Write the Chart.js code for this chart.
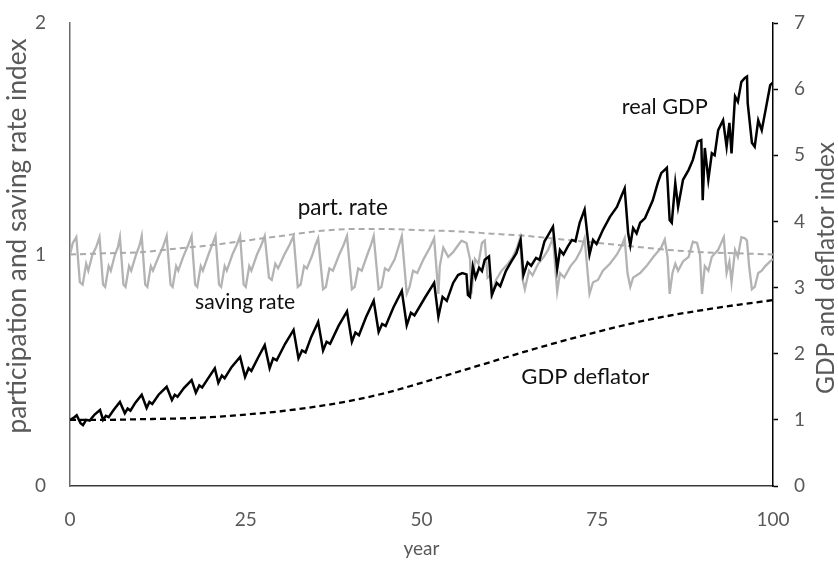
<!DOCTYPE html>
<html>
<head>
<meta charset="utf-8">
<script src="https://cdn.jsdelivr.net/npm/chart.js@4"></script>
<style>
  html, body { margin: 0; padding: 0; background: #fff; }
  #wrap { width: 838px; height: 565px; }
</style>
</head>
<body>
<div id="wrap"><canvas id="c" width="838" height="565"></canvas></div>
<script>
// ---- data ----------------------------------------------------------------
// smooth series, sampled every 5 years
const years5 = [0, 5, 10, 15, 20, 25, 30, 35, 40, 45, 50, 55, 60, 65, 70, 75, 80, 85, 90, 95, 100];
const gdpDeflator = [1.00, 1.00, 1.01, 1.02, 1.04, 1.08, 1.13, 1.20, 1.29, 1.41, 1.56, 1.72, 1.88, 2.04, 2.19, 2.33, 2.46, 2.57, 2.66, 2.74, 2.81];
const partRate = [1.00, 1.005, 1.01, 1.025, 1.04, 1.06, 1.08, 1.10, 1.11, 1.11, 1.105, 1.10, 1.09, 1.08, 1.065, 1.05, 1.035, 1.02, 1.01, 1.005, 1.00];

// cyclical series, [year, index]
const realGdp = [
  [0,1.00],[0.5,1.03],[0.95,1.07],[1.5,0.95],[1.85,0.92],[2.3,1.00],[2.8,0.99],[3.5,1.08],[4.27,1.15],
  [4.7,1.00],[5.1,1.06],[5.5,1.04],[6.2,1.15],[7.1,1.27],[7.8,1.10],[8.2,1.17],[8.6,1.14],[9.3,1.26],
  [10.2,1.38],[10.9,1.18],[11.3,1.27],[11.7,1.24],[12.6,1.38],[13.75,1.50],[14.5,1.30],[14.9,1.38],
  [15.3,1.35],[16.2,1.48],[17.3,1.60],[17.9,1.41],[18.4,1.52],[18.8,1.49],[19.6,1.62],[20.6,1.78],
  [21.1,1.56],[21.6,1.67],[22.0,1.63],[23.0,1.80],[24.2,1.95],[24.9,1.65],[25.4,1.78],[25.8,1.74],
  [26.8,1.95],[27.7,2.13],[28.4,1.78],[28.9,1.93],[29.4,1.90],[30.6,2.15],[31.8,2.36],[32.5,1.93],
  [33.0,2.05],[33.5,2.02],[34.3,2.25],[35.3,2.48],[36.0,2.05],[36.5,2.18],[37.0,2.15],[38.2,2.42],
  [39.4,2.64],[40.1,2.18],[40.6,2.32],[41.1,2.28],[42.1,2.55],[43.2,2.80],[43.9,2.33],[44.4,2.45],
  [44.9,2.42],[46.0,2.70],[47.2,2.95],[47.9,2.43],[48.5,2.62],[49.0,2.58],[50.5,2.85],[51.8,3.07],
  [52.4,2.56],[53.0,2.86],[53.6,2.80],[54.5,3.07],[55.2,3.19],[55.8,3.22],[56.4,3.20],[56.6,2.89],
  [56.9,2.86],[57.3,3.32],[57.7,3.15],[58.2,3.30],[58.6,3.25],[59.0,3.42],[59.6,3.47],[60.0,2.89],
  [60.7,3.07],[61.2,3.02],[62.0,3.25],[62.7,3.38],[63.5,3.52],[64.1,3.72],[64.5,3.19],[65.1,3.38],
  [65.6,3.33],[66.3,3.45],[66.8,3.42],[67.5,3.70],[68.0,3.79],[68.7,3.92],[69.3,3.28],[69.7,3.57],
  [70.2,3.50],[70.8,3.62],[71.4,3.72],[71.9,3.70],[72.5,3.98],[73.2,4.18],[73.9,3.50],[74.4,3.72],
  [74.9,3.66],[75.8,3.87],[76.8,4.07],[77.8,4.22],[78.5,4.40],[78.9,4.50],[79.4,3.82],[79.7,3.64],
  [80.1,3.90],[80.6,3.82],[81.1,3.98],[81.8,4.05],[82.9,4.32],[83.6,4.58],[84.1,4.73],[84.9,4.81],
  [85.3,4.02],[85.6,3.98],[86.1,4.58],[86.5,4.22],[87.2,4.63],[88.0,4.78],[88.6,4.93],[89.3,5.21],
  [89.8,5.23],[90.0,4.32],[90.3,5.11],[90.8,4.63],[91.3,5.03],[91.7,5.00],[92.2,5.38],[92.9,5.53],
  [93.4,5.13],[93.8,5.49],[94.1,5.03],[94.6,5.89],[95.0,5.81],[95.5,6.11],[96.0,6.17],[96.3,6.19],
  [96.4,5.79],[97.0,5.19],[97.4,5.13],[97.9,5.53],[98.4,5.38],[98.9,5.66],[99.3,5.89],[99.6,6.06],[100,6.10]
];

const savingRate = [
  [0,1.00],[0.4,1.05],[0.9,1.075],[1.4,0.88],[1.8,0.87],[2.3,0.96],[2.6,0.93],[3.2,1.00],[3.7,1.03],
  [4.2,1.075],[4.7,0.87],[5.0,0.86],[5.5,0.95],[5.8,0.93],[6.4,1.00],[6.8,1.03],[7.1,1.075],[7.6,0.87],
  [7.9,0.86],[8.4,0.95],[8.7,0.93],[9.4,1.00],[9.9,1.04],[10.2,1.08],[10.7,0.87],[11.0,0.86],[11.5,0.95],
  [11.8,0.93],[12.6,0.99],[13.2,1.03],[13.75,1.08],[14.3,0.87],[14.6,0.86],[15.1,0.95],[15.4,0.93],
  [16.1,0.99],[16.8,1.04],[17.3,1.08],[17.8,0.87],[18.1,0.86],[18.6,0.95],[18.9,0.93],[19.7,1.00],
  [20.2,1.04],[20.7,1.08],[21.2,0.87],[21.5,0.86],[22.0,0.95],[22.3,0.93],[23.1,1.00],[23.7,1.04],
  [24.2,1.08],[24.7,0.87],[25.0,0.86],[25.5,0.95],[25.8,0.93],[26.6,1.00],[27.2,1.04],[27.7,1.08],
  [28.3,0.90],[28.7,0.89],[29.2,0.96],[29.6,0.94],[30.5,1.00],[31.2,1.04],[31.8,1.08],[32.4,0.86],
  [32.8,0.87],[33.3,0.95],[33.7,0.94],[34.5,1.00],[34.9,1.04],[35.3,1.07],[36.0,0.85],[36.4,0.86],
  [36.9,0.94],[37.4,0.93],[38.3,1.00],[38.9,1.04],[39.4,1.08],[40.1,0.85],[40.5,0.86],[41.0,0.94],
  [41.5,0.93],[42.3,1.00],[42.8,1.04],[43.2,1.08],[43.9,0.85],[44.3,0.86],[44.8,0.94],[45.3,0.93],
  [46.2,0.98],[46.8,1.04],[47.2,1.08],[47.9,0.83],[48.3,0.86],[48.8,0.93],[49.4,0.92],[50.3,0.98],
  [51.2,1.03],[51.8,1.07],[52.4,0.83],[52.6,0.95],[53.1,1.03],[53.8,0.99],[54.5,1.01],[55.2,1.04],
  [55.7,1.06],[56.4,1.05],[56.9,0.98],[57.1,0.83],[57.6,0.98],[58.1,0.96],[58.6,1.05],[59.0,1.06],
  [59.4,0.90],[59.8,0.91],[60.1,0.83],[60.6,0.89],[61.4,0.93],[62.3,0.96],[63.0,0.99],[63.6,1.03],
  [64.0,1.07],[64.4,0.89],[64.7,0.85],[65.3,0.93],[65.8,0.91],[66.6,0.96],[67.4,0.99],[68.0,1.02],
  [68.7,1.07],[69.3,0.84],[69.7,0.92],[70.3,0.90],[71.2,0.95],[72.0,0.98],[72.7,1.02],[73.2,1.07],
  [73.9,0.83],[74.4,0.88],[75.1,0.89],[75.8,0.93],[76.8,0.96],[77.8,1.00],[78.5,1.04],[78.9,1.07],
  [79.3,0.92],[79.7,0.86],[80.1,0.90],[81.1,0.92],[82.0,0.95],[83.0,0.99],[84.1,1.03],[84.6,1.065],
  [85.0,0.99],[85.3,0.83],[85.7,0.92],[86.1,0.96],[86.5,0.93],[87.2,0.97],[88.0,0.99],[88.6,1.055],
  [89.2,1.05],[89.6,1.00],[89.9,0.83],[90.3,0.95],[90.8,0.93],[91.3,0.99],[92.2,1.02],[93.0,1.075],
  [93.4,0.92],[93.8,0.97],[94.1,0.88],[94.6,1.02],[95.0,0.99],[95.5,1.075],[96.0,1.07],[96.3,1.06],
  [96.6,0.95],[97.0,0.85],[97.4,0.86],[97.9,0.92],[98.4,0.93],[98.9,0.95],[99.6,0.97],[100,0.98]
];

// axis ranges and titles
const yearRange = [0, 100];
const leftRange = [0, 2];
const rightRange = [0, 7];
const xTitle = 'year';
const leftTitle = 'participation and saving rate index';
const rightTitle = 'GDP and deflator index';

// ---- drawing -------------------------------------------------------------
const FONT = 'Lato, "Open Sans", "DejaVu Sans", sans-serif';
const GREY_TEXT = '#595959';

const fromPairs = arr => arr.map(([x, y]) => ({ x, y }));
const fromColumns = (xs, ys) => xs.map((x, i) => ({ x, y: ys[i] }));

// in-chart series labels, anchored in data coordinates
const seriesLabels = [
  { text: 'real GDP',     x: 84.6, y: 5.73,  axis: 'yR', width: 86 },
  { text: 'part. rate',   x: 38.8, y: 1.20,  axis: 'yL', width: 90 },
  { text: 'saving rate',  x: 24.9, y: 0.795, axis: 'yL', width: 100 },
  { text: 'GDP deflator', x: 73.3, y: 1.65,  axis: 'yR', width: 128 }
];

function fittedFont(ctx, text, width) {
  ctx.font = '20px ' + FONT;
  const size = 20 * width / ctx.measureText(text).width;
  return size.toFixed(2) + 'px ' + FONT;
}

const annotations = {
  id: 'annotations',
  afterDraw(chart) {
    const { ctx, scales } = chart;
    ctx.save();
    ctx.textAlign = 'center';
    ctx.textBaseline = 'middle';

    ctx.fillStyle = '#111';
    seriesLabels.forEach(l => {
      ctx.font = fittedFont(ctx, l.text, l.width);
      ctx.fillText(l.text, scales.x.getPixelForValue(l.x), scales[l.axis].getPixelForValue(l.y));
    });

    ctx.fillStyle = GREY_TEXT;
    ctx.font = '19px ' + FONT;
    ctx.fillText(xTitle, (scales.x.left + scales.x.right) / 2, 549);

    ctx.font = fittedFont(ctx, leftTitle, 395);
    ctx.save();
    ctx.translate(18, 236);
    ctx.rotate(-Math.PI / 2);
    ctx.fillText(leftTitle, 0, 0);
    ctx.restore();

    ctx.font = fittedFont(ctx, rightTitle, 252);
    ctx.save();
    ctx.translate(826, 268);
    ctx.rotate(-Math.PI / 2);
    ctx.fillText(rightTitle, 0, 0);
    ctx.restore();

    ctx.restore();
  }
};

const tickFont = { family: FONT, size: 19 };

// fixed scale sizes so the plot area spans x 70..773, y 23..486
const fixVertical = w => s => { s.width = w; s.paddingTop = 0; s.paddingBottom = 0; };
const fixHorizontal = h => s => { s.height = h; s.paddingLeft = 0; s.paddingRight = 0; };

new Chart(document.getElementById('c'), {
  type: 'line',
  data: {
    datasets: [
      {
        label: 'real GDP', yAxisID: 'yR', data: fromPairs(realGdp),
        borderColor: '#000', borderWidth: 2.5, pointRadius: 0, tension: 0
      },
      {
        label: 'GDP deflator', yAxisID: 'yR', data: fromColumns(years5, gdpDeflator),
        borderColor: '#000', borderWidth: 2.3, borderDash: [6, 4], pointRadius: 0,
        cubicInterpolationMode: 'monotone'
      },
      {
        label: 'part. rate', yAxisID: 'yL', data: fromColumns(years5, partRate),
        borderColor: '#aaaaaa', borderWidth: 2, borderDash: [6, 4], pointRadius: 0,
        cubicInterpolationMode: 'monotone'
      },
      {
        label: 'saving rate', yAxisID: 'yL', data: fromPairs(savingRate),
        borderColor: '#b3b3b3', borderWidth: 2.3, pointRadius: 0, tension: 0
      }
    ]
  },
  options: {
    responsive: false,
    animation: false,
    devicePixelRatio: 1,
    layout: { padding: { top: 23, left: 0, right: 0, bottom: 0 } },
    plugins: { legend: { display: false }, tooltip: { enabled: false } },
    scales: {
      x: {
        type: 'linear', position: 'bottom', min: yearRange[0], max: yearRange[1],
        afterFit: fixHorizontal(79),
        ticks: { stepSize: 25, font: tickFont, color: GREY_TEXT, padding: 22, maxRotation: 0 },
        grid: { display: true, drawOnChartArea: false, drawTicks: false },
        border: { display: true, color: '#3a3a3a', width: 1.5 }
      },
      yL: {
        type: 'linear', position: 'left', min: leftRange[0], max: leftRange[1],
        afterFit: fixVertical(70),
        ticks: { stepSize: 1, font: tickFont, color: GREY_TEXT, padding: 24 },
        grid: { display: true, drawOnChartArea: false, drawTicks: false },
        border: { display: true, color: '#6b6b6b', width: 1.5 }
      },
      yR: {
        type: 'linear', position: 'right', min: rightRange[0], max: rightRange[1],
        afterFit: fixVertical(65),
        ticks: { stepSize: 1, font: tickFont, color: GREY_TEXT, padding: 16 },
        grid: { display: true, drawOnChartArea: false, drawTicks: true, tickLength: 5, tickColor: '#000', tickWidth: 1.5 },
        border: { display: true, color: '#000', width: 1.5 }
      }
    }
  },
  plugins: [annotations]
});
</script>
</body>
</html>
